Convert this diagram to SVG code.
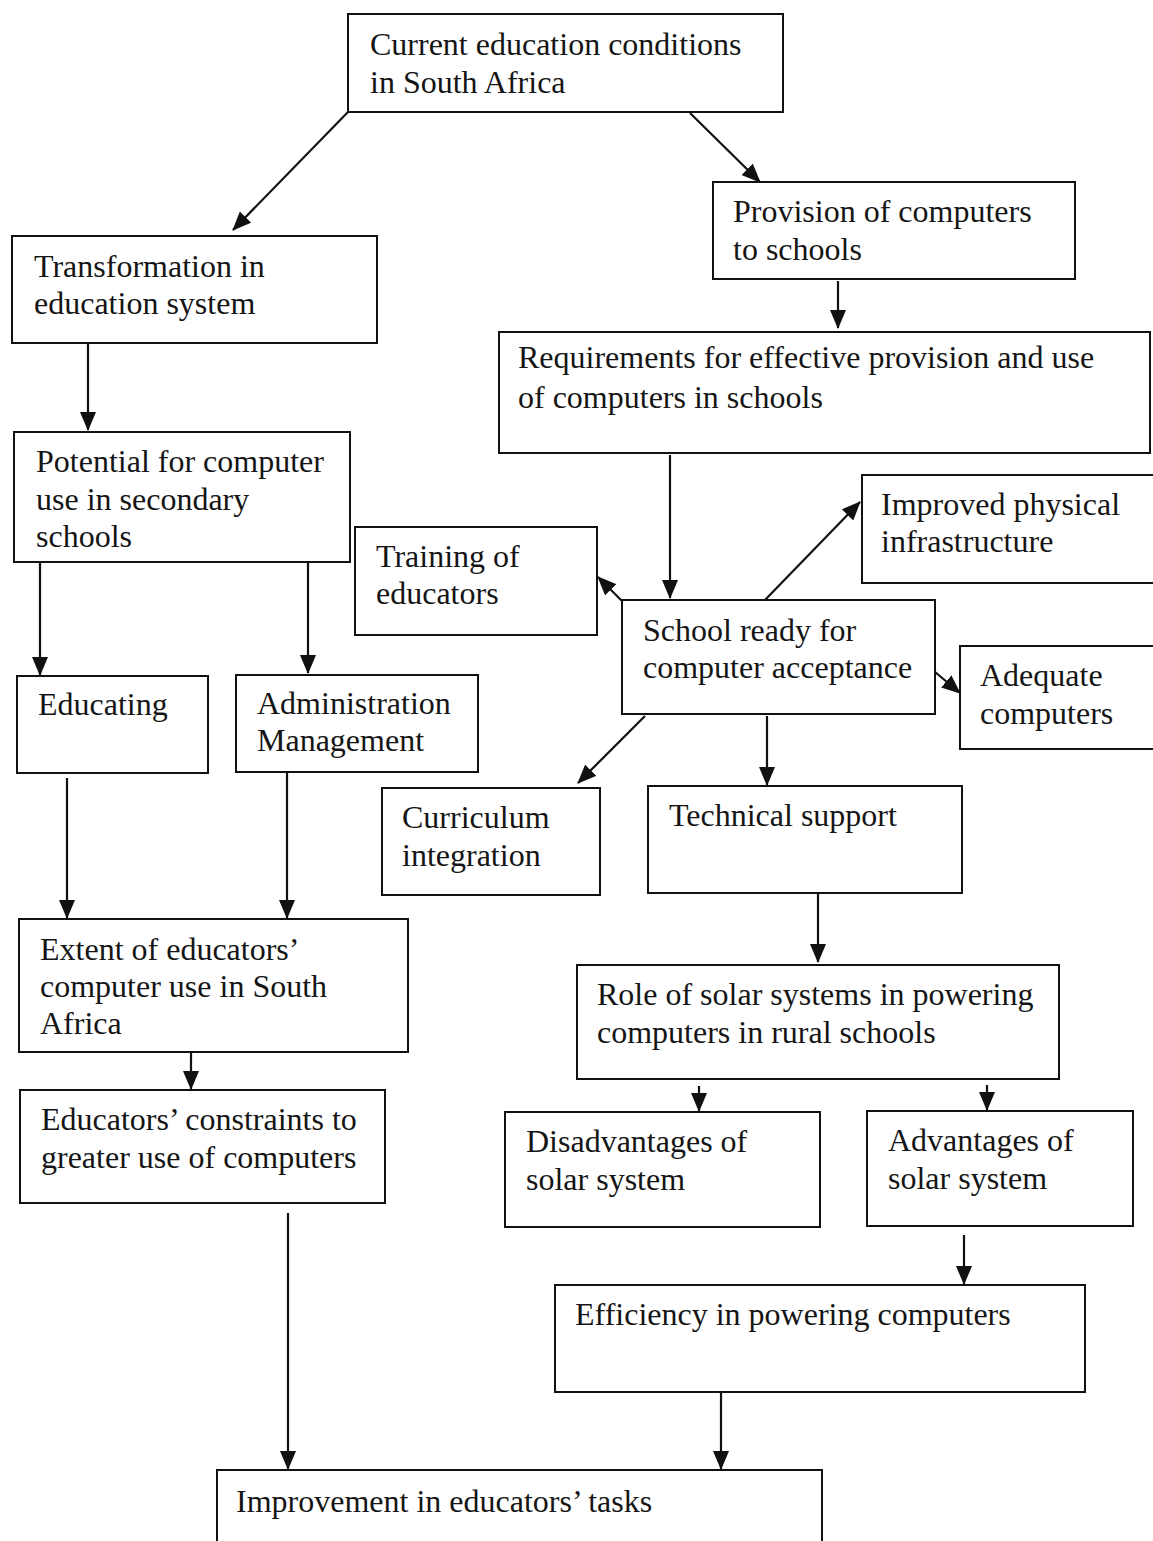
<svg xmlns="http://www.w3.org/2000/svg" width="1153" height="1541" viewBox="0 0 1153 1541">
  <style>
    .box { fill: #fff; stroke: #111; stroke-width: 2; }
    .lbl { font-family: "Liberation Serif", "Times New Roman", serif; font-size: 32px; fill: #151515; }
    .edge { fill: none; stroke: #111; stroke-width: 2.2; marker-end: url(#head); }
  </style>
  <defs>
    <marker id="head" viewBox="0 0 19 16" refX="18" refY="8" markerWidth="19" markerHeight="16" markerUnits="userSpaceOnUse" orient="auto">
      <path d="M0,0 L19,8 L0,16 Z" fill="#111"/>
    </marker>
  </defs>
  <rect width="1153" height="1541" fill="#fff"/>

  <g id="connectors">
    <line class="edge" x1="348" y1="112" x2="233" y2="230"/>
    <line class="edge" x1="690" y1="113" x2="760" y2="182"/>
    <line class="edge" x1="838" y1="281" x2="838" y2="328"/>
    <line class="edge" x1="88" y1="336" x2="88" y2="430"/>
    <line class="edge" x1="670" y1="455" x2="670" y2="598"/>
    <line class="edge" x1="623" y1="602" x2="598" y2="577"/>
    <line class="edge" x1="765" y1="600" x2="860" y2="502"/>
    <line class="edge" x1="935" y1="672" x2="960" y2="693"/>
    <line class="edge" x1="645" y1="716" x2="578" y2="783"/>
    <line class="edge" x1="767" y1="716" x2="767" y2="785"/>
    <line class="edge" x1="40" y1="555" x2="40" y2="675"/>
    <line class="edge" x1="308" y1="550" x2="308" y2="673"/>
    <line class="edge" x1="67" y1="778" x2="67" y2="918"/>
    <line class="edge" x1="287" y1="773" x2="287" y2="918"/>
    <line class="edge" x1="191" y1="1040" x2="191" y2="1089"/>
    <line class="edge" x1="818" y1="882" x2="818" y2="962"/>
    <line class="edge" x1="699" y1="1086" x2="699" y2="1111"/>
    <line class="edge" x1="987" y1="1085" x2="987" y2="1110"/>
    <line class="edge" x1="964" y1="1235" x2="964" y2="1284"/>
    <line class="edge" x1="288" y1="1213" x2="288" y2="1469"/>
    <line class="edge" x1="721" y1="1382" x2="721" y2="1469"/>
  </g>

  <g id="n-current">
    <rect class="box" x="348" y="14" width="435" height="98"/>
    <text class="lbl" x="370" y="55">Current education conditions</text>
    <text class="lbl" x="370" y="93">in South Africa</text>
  </g>
  <g id="n-provision">
    <rect class="box" x="713" y="182" width="362" height="97"/>
    <text class="lbl" x="733" y="222">Provision of computers</text>
    <text class="lbl" x="733" y="260">to schools</text>
  </g>
  <g id="n-transformation">
    <rect class="box" x="12" y="236" width="365" height="107"/>
    <text class="lbl" x="34" y="277">Transformation in</text>
    <text class="lbl" x="34" y="314">education system</text>
  </g>
  <g id="n-requirements">
    <rect class="box" x="499" y="332" width="651" height="121"/>
    <text class="lbl" x="518" y="368">Requirements for effective provision and use</text>
    <text class="lbl" x="518" y="408">of computers in schools</text>
  </g>
  <g id="n-potential">
    <rect class="box" x="14" y="432" width="336" height="130"/>
    <text class="lbl" x="36" y="472">Potential for computer</text>
    <text class="lbl" x="36" y="510">use in secondary</text>
    <text class="lbl" x="36" y="547">schools</text>
  </g>
  <g id="n-infrastructure">
    <rect class="box" x="862" y="475" width="300" height="108"/>
    <text class="lbl" x="881" y="515">Improved physical</text>
    <text class="lbl" x="881" y="552">infrastructure</text>
  </g>
  <g id="n-training">
    <rect class="box" x="355" y="527" width="242" height="108"/>
    <text class="lbl" x="376" y="567">Training of</text>
    <text class="lbl" x="376" y="604">educators</text>
  </g>
  <g id="n-ready">
    <rect class="box" x="622" y="600" width="313" height="114"/>
    <text class="lbl" x="643" y="641">School ready for</text>
    <text class="lbl" x="643" y="678">computer acceptance</text>
  </g>
  <g id="n-adequate">
    <rect class="box" x="960" y="646" width="200" height="103"/>
    <text class="lbl" x="980" y="686">Adequate</text>
    <text class="lbl" x="980" y="724">computers</text>
  </g>
  <g id="n-educating">
    <rect class="box" x="17" y="676" width="191" height="97"/>
    <text class="lbl" x="38" y="715">Educating</text>
  </g>
  <g id="n-administration">
    <rect class="box" x="236" y="675" width="242" height="97"/>
    <text class="lbl" x="257" y="714">Administration</text>
    <text class="lbl" x="257" y="751">Management</text>
  </g>
  <g id="n-curriculum">
    <rect class="box" x="382" y="788" width="218" height="107"/>
    <text class="lbl" x="402" y="828">Curriculum</text>
    <text class="lbl" x="402" y="866">integration</text>
  </g>
  <g id="n-technical">
    <rect class="box" x="648" y="786" width="314" height="107"/>
    <text class="lbl" x="669" y="826">Technical support</text>
  </g>
  <g id="n-extent">
    <rect class="box" x="19" y="919" width="389" height="133"/>
    <text class="lbl" x="40" y="960">Extent of educators’</text>
    <text class="lbl" x="40" y="997">computer use in South</text>
    <text class="lbl" x="40" y="1034">Africa</text>
  </g>
  <g id="n-solar">
    <rect class="box" x="577" y="965" width="482" height="114"/>
    <text class="lbl" x="597" y="1005">Role of solar systems in powering</text>
    <text class="lbl" x="597" y="1043">computers in rural schools</text>
  </g>
  <g id="n-constraints">
    <rect class="box" x="20" y="1090" width="365" height="113"/>
    <text class="lbl" x="41" y="1130">Educators’ constraints to</text>
    <text class="lbl" x="41" y="1168">greater use of computers</text>
  </g>
  <g id="n-disadvantages">
    <rect class="box" x="505" y="1112" width="315" height="115"/>
    <text class="lbl" x="526" y="1152">Disadvantages of</text>
    <text class="lbl" x="526" y="1190">solar system</text>
  </g>
  <g id="n-advantages">
    <rect class="box" x="867" y="1111" width="266" height="115"/>
    <text class="lbl" x="888" y="1151">Advantages of</text>
    <text class="lbl" x="888" y="1189">solar system</text>
  </g>
  <g id="n-efficiency">
    <rect class="box" x="555" y="1285" width="530" height="107"/>
    <text class="lbl" x="575" y="1325">Efficiency in powering computers</text>
  </g>
  <g id="n-improvement">
    <rect class="box" x="217" y="1470" width="605" height="100"/>
    <text class="lbl" x="236" y="1512">Improvement in educators’ tasks</text>
  </g>
</svg>
